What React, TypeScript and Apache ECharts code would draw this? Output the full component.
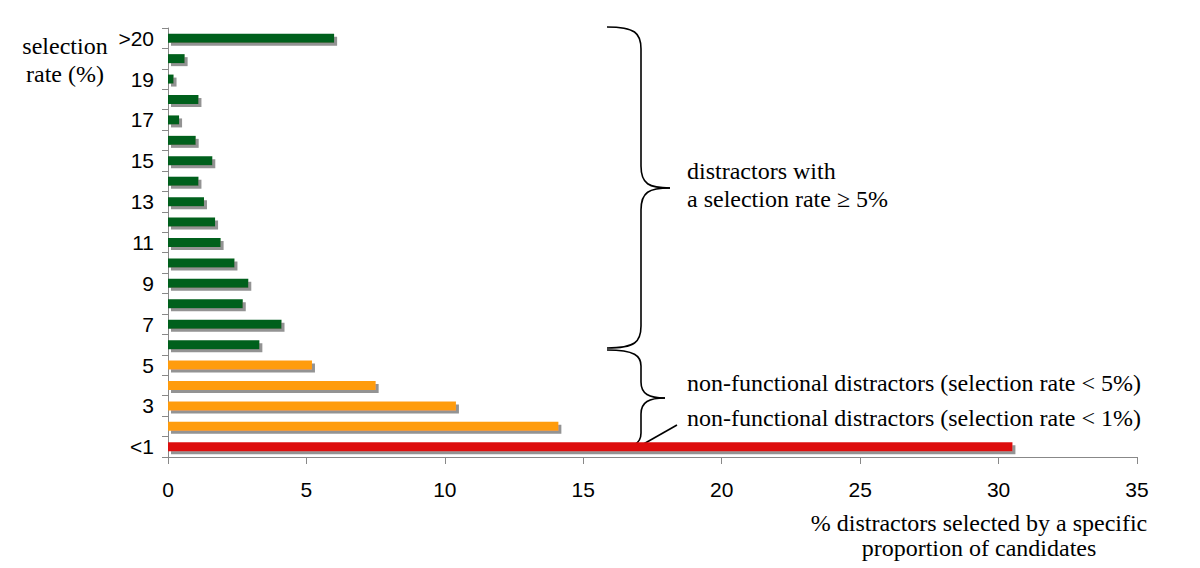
import React, { useEffect, useRef } from "react";
import * as echarts from "echarts";

const categories = ["<1", "2", "3", "4", "5", "6", "7", "8", "9", "10", "11", "12", "13", "14", "15", "16", "17", "18", "19", "20", ">20"];
const values = [30.5, 14.1, 10.4, 7.5, 5.2, 3.3, 4.1, 2.7, 2.9, 2.4, 1.9, 1.7, 1.3, 1.1, 1.6, 1.0, 0.4, 1.1, 0.2, 0.6, 6.0];
const groups = ["lt1", "lt5", "lt5", "lt5", "lt5", "ge5", "ge5", "ge5", "ge5", "ge5", "ge5", "ge5", "ge5", "ge5", "ge5", "ge5", "ge5", "ge5", "ge5", "ge5", "ge5"];
const groupColors: Record<string, string> = { lt1: "#dd0a0a", lt5: "#ff9c0e", ge5: "#05601a" };
const xTicks = { min: 0, max: 35, interval: 5 };
const yTitle = ["selection", "rate (%)"];
const xTitle = ["% distractors selected by a specific", "proportion of candidates"];
const notes = {
  ge5: ["distractors with", "a selection rate \u2265 5%"],
  lt5: "non-functional distractors (selection rate < 5%)",
  lt1: "non-functional distractors (selection rate < 1%)",
};

const serif = "'Liberation Serif', 'Times New Roman', serif";
const sans = "'Liberation Sans', Arial, sans-serif";

function curve(x1: number, y1: number, cpx1: number, cpy1: number, cpx2: number, cpy2: number, x2: number, y2: number) {
  return {
    type: "bezierCurve",
    shape: { x1, y1, cpx1, cpy1, cpx2, cpy2, x2, y2 },
    style: { stroke: "#000", lineWidth: 1.6, fill: null },
    silent: true,
  };
}
function seg(x1: number, y1: number, x2: number, y2: number) {
  return {
    type: "line",
    shape: { x1, y1, x2, y2 },
    style: { stroke: "#000", lineWidth: 1.6 },
    silent: true,
  };
}
function brace(left: number, spine: number, tip: number, top: number, mid: number, bottom: number) {
  const r = Math.min(22, (mid - top) / 3);
  return [
    curve(left, top, spine - 6, top, spine, top + 6, spine, top + r),
    seg(spine, top + r, spine, mid - r),
    curve(spine, mid - r, spine, mid - 4, spine + 8, mid, tip, mid),
    curve(tip, mid, spine + 8, mid, spine, mid + 4, spine, mid + r),
    seg(spine, mid + r, spine, bottom - r),
    curve(spine, bottom - r, spine, bottom - 6, spine - 6, bottom, left, bottom),
  ];
}

export default function App() {
  const ref = useRef<HTMLDivElement>(null);
  useEffect(() => {
    if (!ref.current) return;
    const chart = echarts.init(ref.current, undefined, { renderer: "svg" });
    const textStyle = (text: string, x: number, y: number, align = "left") => ({
      type: "text",
      x,
      y,
      silent: true,
      style: { text, fill: "#000", fontSize: 24, fontFamily: serif, align, verticalAlign: "middle" },
    });
    chart.setOption({
      animation: false,
      backgroundColor: "#fff",
      grid: { left: 168, right: 63, top: 28, bottom: 111, containLabel: false },
      xAxis: {
        type: "value",
        min: xTicks.min,
        max: xTicks.max,
        interval: xTicks.interval,
        splitLine: { show: false },
        axisLine: { show: true, lineStyle: { color: "#888", width: 1 } },
        axisTick: { show: true, length: 7, lineStyle: { color: "#888" } },
        axisLabel: { color: "#000", fontSize: 21, fontFamily: sans, margin: 22 },
      },
      yAxis: {
        type: "category",
        data: categories,
        boundaryGap: true,
        axisLine: { show: true, lineStyle: { color: "#888", width: 1 } },
        axisTick: { show: true, length: 6, interval: 0, lineStyle: { color: "#888" } },
        axisLabel: { color: "#000", fontSize: 21, fontFamily: sans, interval: 1, margin: 14 },
      },
      series: [
        {
          type: "bar",
          barWidth: 9,
          data: values.map((v, i) => ({
            value: v,
            itemStyle: { color: groupColors[groups[i]] },
          })),
          itemStyle: {
            shadowColor: "rgba(110,110,110,0.75)",
            shadowOffsetX: 3,
            shadowOffsetY: 3,
            shadowBlur: 1,
          },
        },
      ],
      graphic: [
        textStyle(yTitle[0], 65, 46, "center"),
        textStyle(yTitle[1], 65, 74, "center"),
        textStyle(xTitle[0], 979, 523, "center"),
        textStyle(xTitle[1], 979, 548, "center"),
        textStyle(notes.ge5[0], 687, 171),
        textStyle(notes.ge5[1], 687, 199),
        textStyle(notes.lt5, 687, 383),
        textStyle(notes.lt1, 687, 418),
        ...brace(607, 641, 670, 27, 188, 348),
        ...brace(607, 641, 665, 350, 398, 449),
        seg(640, 446, 677, 425),
      ],
    });
    return () => chart.dispose();
  }, []);
  return <div ref={ref} style={{ position: "fixed", left: 0, top: 0, width: 1200, height: 568 }} />;
}
